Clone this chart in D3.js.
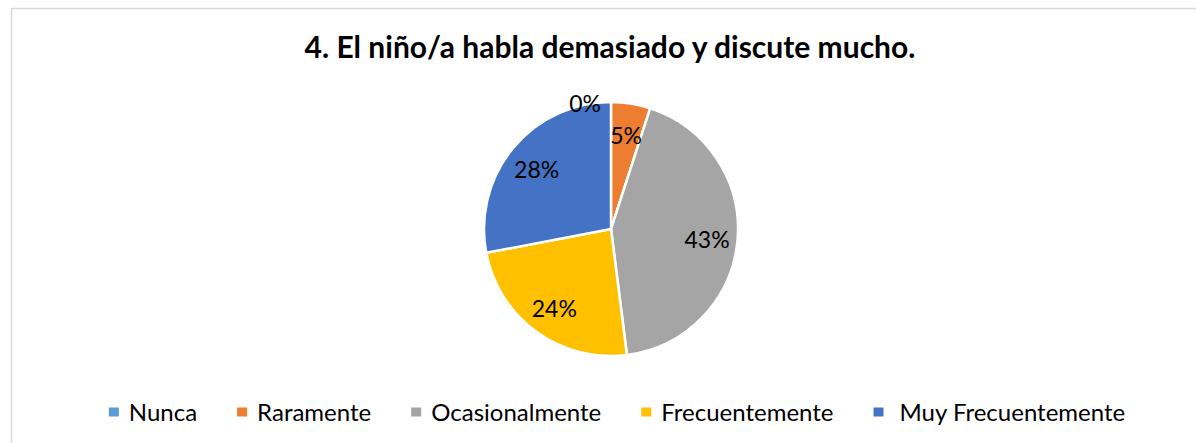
<!DOCTYPE html>
<html lang="es">
<head>
  <meta charset="UTF-8" />
  <title>4. El niño/a habla demasiado y discute mucho.</title>
  <script src="https://d3js.org/d3.v7.min.js"></script>
  <style>
    body { margin: 0; background: #fff; }
    text { font-family: Lato, "Open Sans", sans-serif; fill: #000; }
  </style>
</head>
<body>
  <svg id="chart" width="1196" height="443"></svg>

  <script>
    const categories = ["Nunca", "Raramente", "Ocasionalmente", "Frecuentemente", "Muy Frecuentemente"];
    const values = [0, 5, 43, 24, 28];
    const colors = ["#5B9BD5", "#ED7D31", "#A5A5A5", "#FFC000", "#4472C4"];
    const title = "4. El niño/a habla demasiado y discute mucho.";

    const cx = 611;
    const cy = 229;
    const radius = 127;

    const svg = d3.select("#chart");

    // chart frame (right and bottom edges fall outside the picture)
    svg.append("rect")
      .attr("x", 11.5)
      .attr("y", 8.5)
      .attr("width", 1250)
      .attr("height", 500)
      .attr("fill", "#fff")
      .attr("stroke", "#d9d9d9")
      .attr("stroke-width", 1.5);

    svg.append("text")
      .attr("x", 610)
      .attr("y", 58)
      .attr("text-anchor", "middle")
      .attr("font-size", 30)
      .attr("font-weight", "bold")
      .text(title);

    const data = categories.map((c, i) => ({ name: c, value: values[i], color: colors[i] }));

    const pie = d3.pie()
      .value(d => d.value)
      .sort(null);

    const arcs = pie(data);

    const arc = d3.arc()
      .innerRadius(0)
      .outerRadius(radius);

    const labelArc = d3.arc()
      .innerRadius(radius * 0.76)
      .outerRadius(radius * 0.76);

    const g = svg.append("g")
      .attr("transform", `translate(${cx},${cy})`);

    g.selectAll("path")
      .data(arcs)
      .join("path")
      .attr("d", arc)
      .attr("fill", d => d.data.color)
      .attr("stroke", "#fff")
      .attr("stroke-width", 2.5)
      .attr("stroke-linejoin", "round");

    g.selectAll("text.lbl")
      .data(arcs)
      .join("text")
      .attr("class", "lbl")
      .attr("font-size", 23)
      .attr("dy", "0.36em")
      .attr("text-anchor", d => d.data.value === 0 ? "end" : "middle")
      .attr("transform", d => {
        if (d.data.value === 0) {
          // empty slice: label sits just outside the rim, left of the start
          return `translate(${-10},${-radius + 2})`;
        }
        const [x, y] = labelArc.centroid(d);
        return `translate(${x},${y + 2})`;
      })
      .text(d => Math.round(d.data.value) + "%");

    // legend
    const legend = svg.append("g");
    const items = legend.selectAll("g")
      .data(data)
      .join("g");

    items.append("rect")
      .attr("width", 10)
      .attr("height", 9)
      .attr("y", -4.5)
      .attr("fill", d => d.color);

    items.append("text")
      .attr("x", d => d.name.startsWith("Muy") ? 26 : 20)
      .attr("dy", "0.36em")
      .attr("font-size", 24)
      .text(d => d.name);

    let x = 0;
    items.each(function () {
      const t = d3.select(this).select("text");
      const w = t.node().getComputedTextLength();
      d3.select(this).attr("transform", `translate(${x},0)`);
      x += +t.attr("x") + w + 40;
    });
    const legendWidth = x - 40;
    legend.attr("transform", `translate(${617 - legendWidth / 2},412)`);
  </script>
</body>
</html>
